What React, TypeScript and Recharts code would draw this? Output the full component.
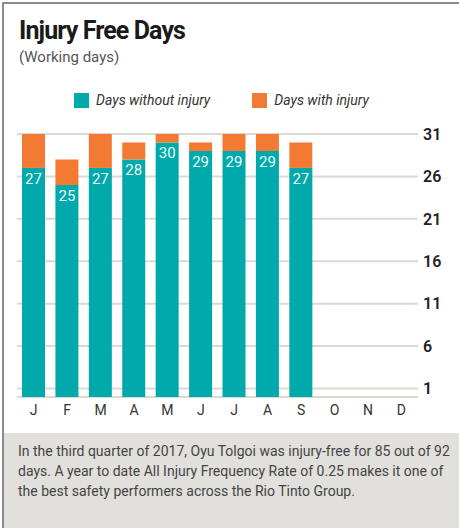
import React from "react";
import { BarChart, Bar, XAxis, YAxis, CartesianGrid, Legend, LabelList } from "recharts";

const months = ["J", "F", "M", "A", "M", "J", "J", "A", "S", "O", "N", "D"];
const daysWithout = [27, 25, 27, 28, 30, 29, 29, 29, 27, null, null, null];
const daysWith = [4, 3, 4, 2, 1, 1, 2, 2, 3, null, null, null];
const yTicks = [1, 6, 11, 16, 21, 26, 31];
const seriesOrder = ["without", "withInjury"];

const TEAL = "#00a9ab";
const ORANGE = "#f37a32";

const data = months.map((m, i) => ({
  key: i,
  month: m,
  without: daysWithout[i],
  withInjury: daysWith[i]
}));

const LegendContent = ({ payload }: any) => {
  const items = [...(payload || [])].sort(
    (a: any, b: any) => seriesOrder.indexOf(a.dataKey) - seriesOrder.indexOf(b.dataKey)
  );
  return (
    <div style={{ display: "flex", alignItems: "center" }}>
      {items.map((p: any, i: number) => (
        <div key={i} style={{ display: "flex", alignItems: "center", marginRight: i === 0 ? 42 : 0 }}>
          <span style={{ width: 15, height: 15, background: p.color, display: "inline-block", marginRight: 7 }} />
          <span style={{ fontStyle: "italic", fontSize: 14, color: "#333" }}>{p.value}</span>
        </div>
      ))}
    </div>
  );
};

const App = () => {
  return (
    <div
      style={{
        position: "absolute",
        left: 0,
        top: 0,
        width: 459,
        height: 528,
        overflow: "hidden",
        background: "#fff",
        fontFamily: "Roboto, 'Noto Sans', sans-serif"
      }}
    >
      <div
        style={{
          position: "absolute",
          left: 2,
          top: 2,
          width: 520,
          height: 600,
          borderLeft: "2px solid #8c8c8c",
          borderTop: "2px solid #8c8c8c"
        }}
      />
      <div
        style={{
          position: "absolute",
          left: 19,
          top: 16,
          fontSize: 25,
          fontWeight: 700,
          color: "#1a1a1a",
          letterSpacing: -0.9,
          lineHeight: "30px",
          whiteSpace: "nowrap"
        }}
      >
        Injury Free Days
      </div>
      <div style={{ position: "absolute", left: 19, top: 47, fontSize: 15, color: "#555", lineHeight: "20px" }}>
        (Working days)
      </div>
      <div style={{ position: "absolute", left: 0, top: 0 }}>
        <BarChart width={459} height={420} data={data} margin={{ top: 134, right: 0, left: 17, bottom: 0 }}>
          <CartesianGrid horizontal vertical={false} stroke="#dcd9d3" strokeWidth={2} />
          <XAxis
            dataKey="month"
            height={23}
            axisLine={false}
            tickLine={false}
            tick={{ fontSize: 14, fill: "#333" }}
            interval={0}
          />
          <YAxis
            orientation="right"
            width={41}
            domain={[1, 31]}
            ticks={yTicks}
            axisLine={false}
            tickLine={false}
            tickSize={3}
            tick={{ fontSize: 16, fontWeight: 600, fill: "#222", textAnchor: "start" }}
          />
          <Legend
            layout="horizontal"
            verticalAlign="middle"
            align="center"
            wrapperStyle={{ position: "absolute", left: 74, top: 92, width: 360 }}
            content={<LegendContent />}
          />
          <Bar dataKey="without" name="Days without injury" stackId="a" fill={TEAL} barSize={23} isAnimationActive={false}>
            <LabelList dataKey="without" position="insideTop" offset={5} fill="#eef9f9" fontSize={15} />
          </Bar>
          <Bar dataKey="withInjury" name="Days with injury" stackId="a" fill={ORANGE} barSize={23} isAnimationActive={false} />
        </BarChart>
      </div>
      <div
        style={{
          position: "absolute",
          left: 4,
          top: 433,
          width: 455,
          height: 95,
          background: "#e1e0dc"
        }}
      >
        <div
          style={{
            position: "absolute",
            left: 14,
            top: 8,
            fontSize: 14,
            lineHeight: "20px",
            color: "#444",
            whiteSpace: "nowrap"
          }}
        >
          In the third quarter of 2017, Oyu Tolgoi was injury-free for 85 out of 92
          <br />
          days. A year to date All Injury Frequency Rate of 0.25 makes it one of
          <br />
          the best safety performers across the Rio Tinto Group.
        </div>
      </div>
    </div>
  );
};

export default App;
